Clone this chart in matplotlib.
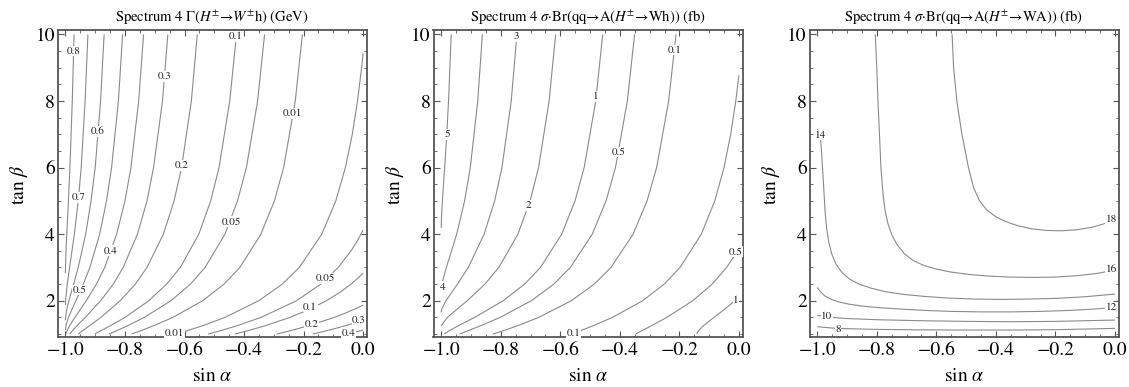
import matplotlib
matplotlib.use('Agg')
import matplotlib.pyplot as plt
import numpy as np

plt.rcParams['font.family'] = 'STIXGeneral'
plt.rcParams['mathtext.fontset'] = 'stix'

# ---------------- panel 1: Gamma(H -> W h), contour lines (sin a, tan b)
tb1 = [10, 8, 6, 5, 4, 3, 2.5, 2, 1.5, 1.25, 1.1, 1]
g08_x = [-0.971, -0.977, -0.985, -0.990, -0.9955, -0.9981, -0.9998, -1.0]
g08_y = [10, 8, 6, 5, 4, 3.5, 3, 2.83]
g07_x = [-0.9245, -0.934, -0.947, -0.957, -0.970, -0.986, -0.994, -0.9996, -1.0]
g07_y = [10, 8, 6, 5, 4, 3, 2.5, 2, 1.87]
g06_x = [-0.870, -0.882, -0.900, -0.914, -0.932, -0.957, -0.9725, -0.9885, -0.9965, -0.9996, -1.0]
g06_y = [10, 8, 6, 5, 4, 3, 2.5, 2, 1.7, 1.5, 1.414]
g05_x = [-0.808, -0.822, -0.845, -0.862, -0.885, -0.918, -0.940, -0.965, -0.990, -0.9985, -1.0]
g05_y = [10, 8, 6, 5, 4, 3, 2.5, 2, 1.5, 1.25, 1.118]
g04_x = [-0.7375, -0.754, -0.780, -0.800, -0.828, -0.868, -0.896, -0.930, -0.968, -0.986, -0.9947, -0.9985]
g03_x = [-0.656, -0.674, -0.704, -0.726, -0.758, -0.806, -0.839, -0.882, -0.933, -0.961, -0.9764, -0.986]
g02_x = [-0.557, -0.577, -0.610, -0.635, -0.671, -0.726, -0.765, -0.816, -0.881, -0.919, -0.9421, -0.957]
g01_x = [-0.4255, -0.448, -0.484, -0.512, -0.552, -0.614, -0.660, -0.720, -0.800, -0.849, -0.8808, -0.902]
g005_x = [-0.331, -0.3545, -0.392, -0.422, -0.464, -0.531, -0.580, -0.6455, -0.735, -0.791, -0.8281, -0.854]
g001_x = [-0.204, -0.228, -0.267, -0.298, -0.3435, -0.414, -0.467, -0.539, -0.639, -0.7035, -0.7467, -0.778]
# lines on the other side of the zero valley
r001_x = [0, -0.0051, -0.0188, -0.0363, -0.0595, -0.0917, -0.139, -0.2144, -0.2714, -0.3505, -0.4639, -0.5389, -0.5909, -0.6287]
r001_y = [9.43, 9, 8, 7, 6, 5, 4, 3, 2.5, 2, 1.5, 1.25, 1.1, 1]
r005_x = [0, -0.0194, -0.0405, -0.0837, -0.1421, -0.2239, -0.3430, -0.4231, -0.4793, -0.5205]
r005_y = [4.12, 3.8, 3.5, 3, 2.5, 2, 1.5, 1.25, 1.1, 1]
r01_x = [0, -0.0148, -0.0407, -0.0783, -0.1236, -0.1783, -0.2457, -0.3287, -0.3875, -0.4310]
r01_y = [2.83, 2.7, 2.5, 2.25, 2, 1.75, 1.5, 1.25, 1.1, 1]
r02_x = [0, -0.016, -0.0539, -0.0969, -0.1828, -0.2443, -0.2902]
r02_y = [1.87, 1.8, 1.65, 1.5, 1.25, 1.1, 1]
r03_x = [0, -0.0403, -0.0793, -0.1220, -0.1692]
r03_y = [1.414, 1.3, 1.2, 1.1, 1]
r04_x = [0, -0.0312, -0.0556]
r04_y = [1.118, 1.05, 1]

p1_lab = ['0.8', '0.3', '0.6', '0.2', '0.1', '0.01', '0.7', '0.05', '0.4', '0.5',
          '0.05', '0.1', '0.2', '0.3', '0.4', '0.01']
p1_lab_x = [-0.973, -0.666, -0.892, -0.609, -0.428, -0.236, -0.957, -0.442, -0.848, -0.953,
            -0.125, -0.178, -0.172, -0.014, -0.05, -0.633]
p1_lab_y = [9.5, 8.73, 7.08, 6.07, 9.93, 7.63, 5.1, 4.37, 3.5, 2.32,
            2.67, 1.82, 1.29, 1.43, 1.04, 1.04]

# ---------------- panel 2: sigma*Br(H -> W h) in fb
tb2 = [10, 8, 6, 5, 4, 3, 2.5, 2, 1.5, 1.25, 1.1, 1]
s5_x = [-0.9664, -0.9755, -0.9814, -0.9885, -0.9961, -0.9992, -1.0]
s5_y = [10, 8, 7, 6, 5, 4.5, 4.19]
s4_x = [-0.8619, -0.8773, -0.9024, -0.9215, -0.9480, -0.9827, -0.9981, -0.9996, -1.0]
s4_y = [10, 8, 6, 5, 4, 3, 2.5, 2.4, 2.33]
s3_x = [-0.7457, -0.7649, -0.7960, -0.8205, -0.8560, -0.9093, -0.9454, -0.9843, -0.9982, -1.0]
s3_y = [10, 8, 6, 5, 4, 3, 2.5, 2, 1.75, 1.65]
s2_x = [-0.6157, -0.6376, -0.6731, -0.7015, -0.7424, -0.8066, -0.8531, -0.9128, -0.9797, -0.9998, -1.0]
s2_y = [10, 8, 6, 5, 4, 3, 2.5, 2, 1.5, 1.25, 1.235]
s1_x = [-0.4575, -0.4810, -0.5199, -0.5505, -0.5953, -0.6667, -0.7199, -0.7917, -0.8877, -0.9425, -0.9733, -0.9899]
s05_x = [-0.3505, -0.3748, -0.4147, -0.4463, -0.4926, -0.5663, -0.6216, -0.6974, -0.8024, -0.8679, -0.9100, -0.9380]
s01_x = [-0.2113, -0.2360, -0.2765, -0.3086, -0.3554, -0.4299, -0.4859, -0.5631, -0.6724, -0.7431, -0.7914, -0.8259]
q01_x = [0, -0.0106, -0.0276, -0.0501, -0.0811, -0.1264, -0.1977, -0.2509, -0.3234, -0.4247, -0.4895, -0.5331, -0.5641]
q01_y = [8.77, 8, 7, 6, 5, 4, 3, 2.5, 2, 1.5, 1.25, 1.1, 1]
q05_x = [0, -0.0042, -0.0414, -0.0899, -0.1552, -0.2421, -0.2940, -0.3262, -0.3467]
q05_y = [3.54, 3.5, 3, 2.5, 2, 1.5, 1.25, 1.1, 1]
q1_x = [0, -0.0138, -0.0473, -0.0837, -0.1193, -0.1357, -0.1418]
q1_y = [2.11, 2, 1.75, 1.5, 1.25, 1.1, 1]

p2_lab = ['5', '3', '1', '0.5', '0.1', '2', '4', '0.1', '0.5', '1']
p2_lab_x = [-0.98, -0.748, -0.481, -0.405, -0.216, -0.707, -0.994, -0.556, -0.012, -0.01]
p2_lab_y = [7.0, 9.93, 8.13, 6.47, 9.53, 4.87, 2.42, 1.04, 3.47, 2.02]

# ---------------- panel 3: sigma*Br(H -> W A) in fb
a18_x = [-0.547, -0.542, -0.531, -0.514, -0.492, -0.475, -0.455, -0.43, -0.40, -0.365, -0.325,
         -0.28, -0.23, -0.18, -0.13, -0.08, -0.04, 0.0]
a18_y = [10, 9, 8, 7, 6, 5.4, 5.0, 4.72, 4.52, 4.37, 4.25,
         4.16, 4.11, 4.10, 4.13, 4.2, 4.3, 4.44]
a16_x = [-0.805, -0.8, -0.796, -0.791, -0.786, -0.779, -0.772, -0.762, -0.748, -0.73, -0.708,
         -0.68, -0.645, -0.6, -0.55, -0.49, -0.425, -0.35, -0.27, -0.2, -0.13, -0.06, 0.0]
a16_y = [10, 9, 8, 7, 6, 5.2, 4.7, 4.3, 3.95, 3.66, 3.42,
         3.22, 3.07, 2.95, 2.86, 2.79, 2.74, 2.71, 2.70, 2.71, 2.75, 2.82, 2.92]
a14_x = [-1.0, -0.99, -0.985, -0.981, -0.977, -0.973, -0.968, -0.961, -0.951, -0.937, -0.918,
         -0.893, -0.86, -0.82, -0.77, -0.71, -0.64, -0.56, -0.47, -0.38, -0.29, -0.2, -0.1, 0.0]
a14_y = [7.15, 7.0, 6.4, 5.8, 5.2, 4.6, 4.15, 3.75, 3.4, 3.1, 2.86,
         2.66, 2.5, 2.38, 2.27, 2.19, 2.13, 2.08, 2.05, 2.04, 2.05, 2.07, 2.12, 2.2]
a12_x = [-1.0, -0.99, -0.975, -0.955, -0.93, -0.895, -0.85, -0.79, -0.72, -0.64, -0.55,
         -0.45, -0.35, -0.25, -0.15, -0.07, 0.0]
a12_y = [2.4, 2.28, 2.15, 2.05, 1.97, 1.9, 1.84, 1.79, 1.75, 1.71, 1.68,
         1.665, 1.665, 1.68, 1.71, 1.75, 1.8]
a10_x = [-1.0, -0.95, -0.9, -0.8, -0.65, -0.5, -0.35, -0.2, -0.1, 0.0]
a10_y = [1.56, 1.5, 1.465, 1.43, 1.40, 1.38, 1.37, 1.38, 1.40, 1.42]
a8_x = [-1.0, -0.95, -0.9, -0.8, -0.65, -0.5, -0.35, -0.2, -0.1, 0.0]
a8_y = [1.22, 1.18, 1.16, 1.14, 1.125, 1.12, 1.12, 1.13, 1.15, 1.17]

p3_lab = ['14', '18', '16', '12', '10', '8']
p3_lab_x = [-0.99, -0.012, -0.012, -0.012, -0.968, -0.93]
p3_lab_y = [6.98, 4.45, 2.95, 1.80, 1.54, 1.16]

titles = ['Spectrum 4 Γ($H^{\\pm}$→$W^{\\pm}$h) (GeV)',
          'Spectrum 4 $\\sigma$·Br(qq→A($H^{\\pm}$→Wh)) (fb)',
          'Spectrum 4 $\\sigma$·Br(qq→A($H^{\\pm}$→WA)) (fb)']

p1_lines = [(g08_x, g08_y), (g07_x, g07_y), (g06_x, g06_y), (g05_x, g05_y),
            (g04_x, tb1), (g03_x, tb1), (g02_x, tb1), (g01_x, tb1), (g005_x, tb1), (g001_x, tb1),
            (r001_x, r001_y), (r005_x, r005_y), (r01_x, r01_y), (r02_x, r02_y),
            (r03_x, r03_y), (r04_x, r04_y)]
p2_lines = [(s5_x, s5_y), (s4_x, s4_y), (s3_x, s3_y), (s2_x, s2_y),
            (s1_x, tb2), (s05_x, tb2), (s01_x, tb2),
            (q01_x, q01_y), (q05_x, q05_y), (q1_x, q1_y)]
p3_lines = [(a18_x, a18_y), (a16_x, a16_y), (a14_x, a14_y), (a12_x, a12_y),
            (a10_x, a10_y), (a8_x, a8_y)]

panels = [(p1_lines, p1_lab, p1_lab_x, p1_lab_y),
          (p2_lines, p2_lab, p2_lab_x, p2_lab_y),
          (p3_lines, p3_lab, p3_lab_x, p3_lab_y)]

W, H = 1129, 387
fig = plt.figure(figsize=(W / 100, H / 100), dpi=100)
lefts = [57.7, 433.5, 809.5]
aw = 309
top, bot = 30, 336.7
frame_col = '#555555'

for i, (lines, labs, lx, ly) in enumerate(panels):
    l = lefts[i]
    ax = fig.add_axes([l / W, 1 - bot / H, aw / W, (bot - top) / H])
    for xs, ys in lines:
        ax.plot(xs, ys, color='#8a8a8a', lw=0.8, solid_capstyle='butt', solid_joinstyle='round')
    for t, x, y in zip(labs, lx, ly):
        ax.text(x, y, t, fontsize=8, ha='center', va='center', color='#222222',
                bbox=dict(fc='white', ec='none', pad=0.4))
    ax.set_xlim(-1.026, 0.012)
    ax.set_ylim(0.92, 10.13)
    xt = [-1.0, -0.8, -0.6, -0.4, -0.2, 0.0]
    ax.set_xticks(xt, labels=[f'{v:.1f}'.replace('-', '−') for v in xt])
    ax.set_yticks([2, 4, 6, 8, 10])
    ax.set_xticks(np.arange(-1.0, 0.001, 0.05), minor=True)
    ax.set_yticks(np.arange(1.0, 10.01, 0.5), minor=True)
    ax.tick_params(which='both', direction='in', top=True, right=True,
                   color=frame_col, labelsize=14)
    ax.tick_params(which='major', length=4.5, width=0.8)
    ax.tick_params(which='minor', length=2.3, width=0.6)
    ax.tick_params(axis='x', pad=4)
    ax.tick_params(axis='y', pad=2)
    for s in ax.spines.values():
        s.set_color(frame_col)
        s.set_linewidth(1.3)
    cx = (l + aw / 2) / W
    fig.text(cx, 1 - 18 / H, titles[i], ha='center', va='center', fontsize=10.5)
    fig.text(cx, 1 - 376 / H, 'sin $\\alpha$', ha='center', va='center', fontsize=14)
    fig.text((l - 39) / W, 1 - 185 / H, 'tan $\\beta$', ha='center', va='center',
             rotation=90, fontsize=14)

fig.savefig('out.png', dpi=100)
